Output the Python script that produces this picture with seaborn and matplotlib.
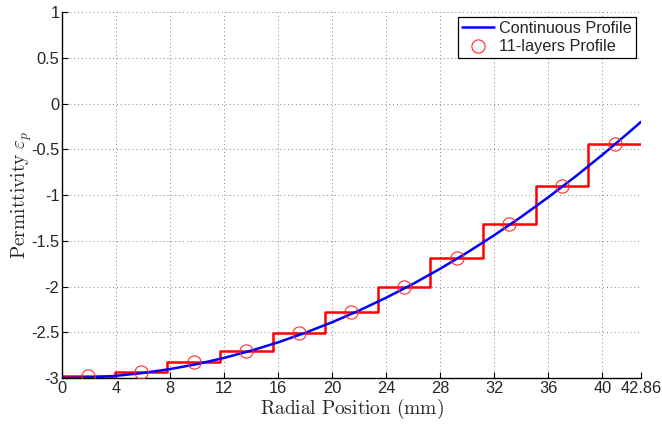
"""Perfil de permitividad continuo frente a la aproximación por 11 capas."""
import matplotlib
matplotlib.use("Agg")
import matplotlib.pyplot as plt
import numpy as np
import pandas as pd
import seaborn as sns

# curva continua
R_CURVE = [0, 2, 4, 6, 8, 10, 12, 14, 16, 18, 20, 22, 24, 26, 28, 30, 32, 34, 36, 38, 40, 42, 42.86]
EPS_CURVE = [-3.00, -2.994, -2.976, -2.945, -2.902, -2.848, -2.780, -2.701, -2.610, -2.506, -2.390,
             -2.262, -2.122, -1.970, -1.805, -1.628, -1.439, -1.238, -1.024, -0.799, -0.561, -0.311, -0.20]

# perfil de 11 capas
LAYER_EDGES = [0, 3.896, 7.792, 11.689, 15.585, 19.481, 23.377, 27.274, 31.17, 35.066, 38.962, 42.86]
LAYER_MID = [1.948, 5.844, 9.741, 13.637, 17.533, 21.429, 25.326, 29.222, 33.118, 37.014, 40.911]
LAYER_EPS = [-2.98, -2.93, -2.83, -2.70, -2.51, -2.28, -2.00, -1.69, -1.32, -0.90, -0.44]

X_TICKS = [0, 4, 8, 12, 16, 20, 24, 28, 32, 36, 40, 42.86]
X_LABELS = ["0", "4", "8", "12", "16", "20", "24", "28", "32", "36", "40", "42.86"]
Y_TICKS = [-3, -2.5, -2, -1.5, -1, -0.5, 0, 0.5, 1]
Y_LABELS = ["-3", "-2.5", "-2", "-1.5", "-1", "-0.5", "0", "0.5", "1"]

sns.set_theme(style="white")
plt.rcParams["font.family"] = ["Liberation Sans", "DejaVu Sans"]
plt.rcParams["mathtext.fontset"] = "cm"

curve = pd.DataFrame({"r": R_CURVE, "eps": EPS_CURVE})
steps = pd.DataFrame({"r": LAYER_EDGES, "eps": LAYER_EPS + [LAYER_EPS[-1]]})
mids = pd.DataFrame({"r": LAYER_MID, "eps": LAYER_EPS})

fig = plt.figure(figsize=(6.62, 4.28), dpi=100)
ax = fig.add_axes([0.0937, 0.1168, 0.8745, 0.855])

sns.lineplot(data=curve, x="r", y="eps", ax=ax, color="#0000ff", lw=1.8,
             sort=False, label="Continuous Profile", zorder=3)
sns.lineplot(data=steps, x="r", y="eps", ax=ax, color="#ff0000", lw=1.8,
             drawstyle="steps-post", sort=False, legend=False, zorder=2)
ax.plot(mids["r"], mids["eps"], ls="none", marker="o", ms=9.5, mfc="none",
        mec="#ff2a2a", mew=0.8, label="11-layers Profile", zorder=4)

ax.set_xlim(0, 42.86)
ax.set_ylim(-3, 1)
ax.set_xticks(X_TICKS)
ax.set_xticklabels(X_LABELS, fontsize=11.8)
ax.set_yticks(Y_TICKS)
ax.set_yticklabels(Y_LABELS, fontsize=11.8)
ax.tick_params(direction="in", length=4, width=0.8, color="black", pad=2,
               top=False, right=False, bottom=True, left=True)
ax.grid(True, ls=(0, (1, 3)), color="#808080", lw=0.7)
for side in ["top", "right"]:
    ax.spines[side].set_visible(False)
for side in ["left", "bottom"]:
    ax.spines[side].set_color("black")
    ax.spines[side].set_linewidth(1.0)

ax.set_xlabel(r"$\mathrm{Radial\ Position\ (mm)}$", fontsize=14, labelpad=1)
ax.set_ylabel(r"$\mathrm{Permittivity}\ \varepsilon_p$", fontsize=14, va="center")
ax.yaxis.set_label_coords(-0.07, 0.5)

leg = ax.legend(loc="upper right", fontsize=11.7, frameon=True, fancybox=False,
                handlelength=2.0, borderpad=0.25, labelspacing=0.2,
                handletextpad=0.3, borderaxespad=0.3)
leg.get_frame().set_edgecolor("black")
leg.get_frame().set_linewidth(0.9)
leg.get_frame().set_alpha(1)

fig.savefig("out.png", dpi=100)
